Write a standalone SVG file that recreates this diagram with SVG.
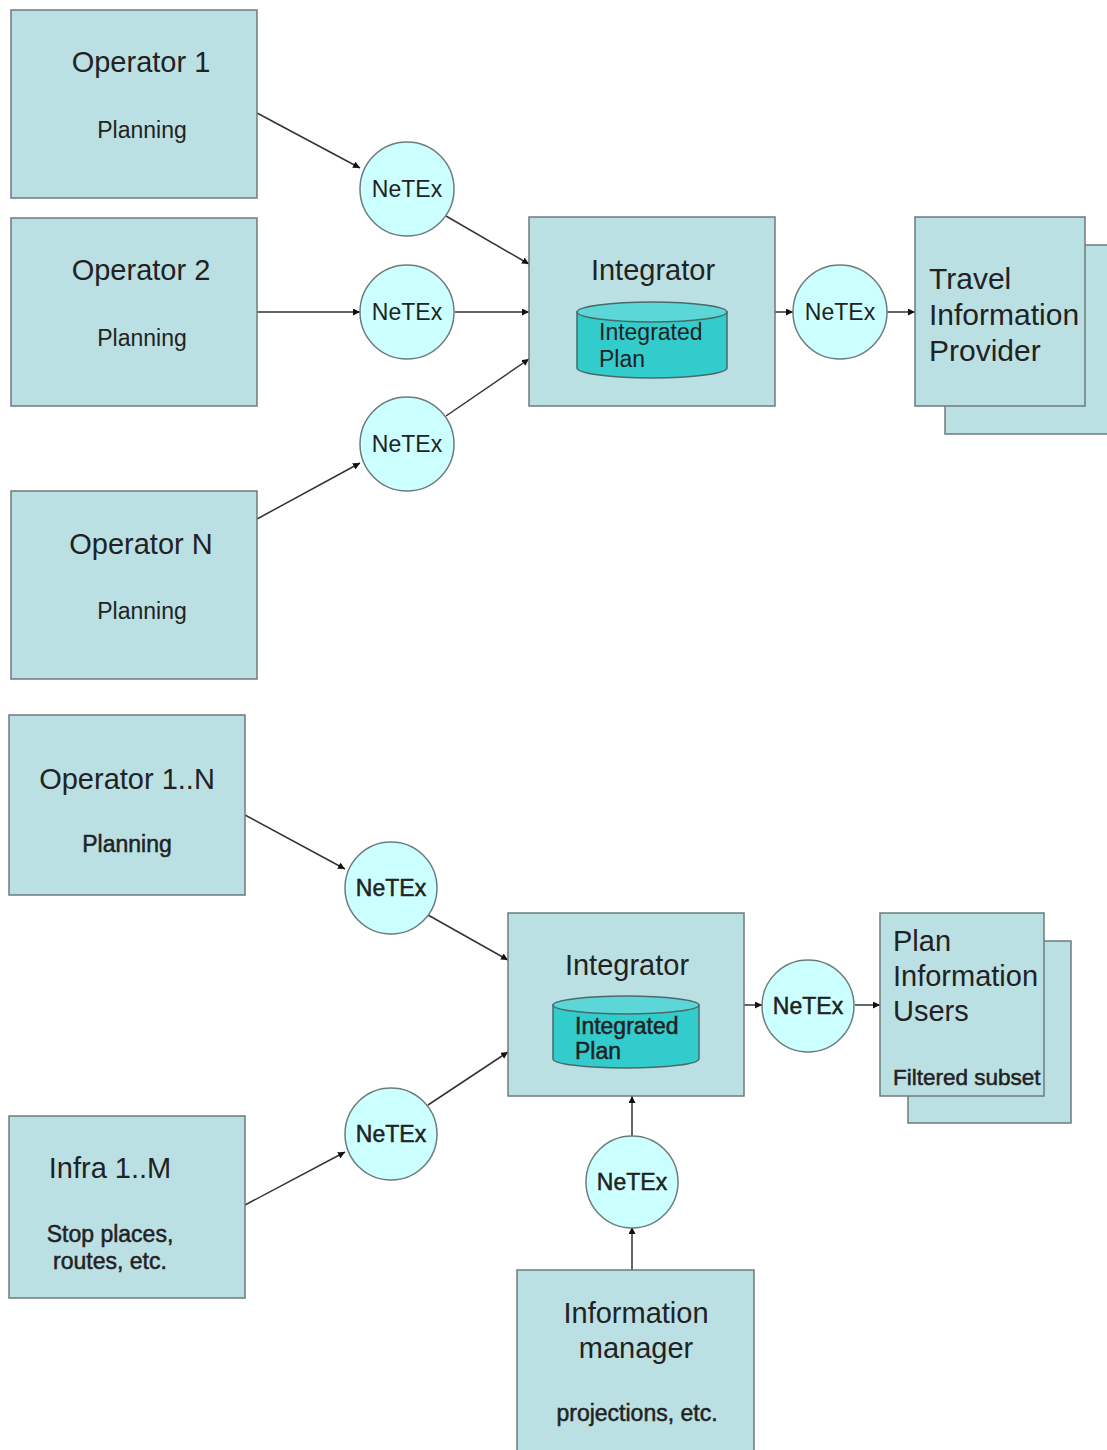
<svg xmlns="http://www.w3.org/2000/svg" width="1107" height="1450" viewBox="0 0 1107 1450">
<style>
.box{fill:#bbe0e3;stroke:#6e7b7c;stroke-width:1.5}
.circ{fill:#ccffff;stroke:#6e7b7c;stroke-width:1.5}
.cyl{fill:#33cccc;stroke:#4a6a6a;stroke-width:1.5}
.cyltop{fill:#5cd6d6;stroke:#4a6a6a;stroke-width:1.5}
.t{font-family:"Liberation Sans",Arial,sans-serif;fill:#222}
.big{font-size:29px}
.mid{font-size:23px}
.net{font-size:23px;text-anchor:middle}
.c{text-anchor:middle}
.semi{stroke:#222;stroke-width:0.5}
.con{stroke:#333;stroke-width:1.5;fill:none;marker-end:url(#ah)}
</style>
<defs>
<marker id="ah" viewBox="0 0 10 10" refX="10" refY="5" markerWidth="7" markerHeight="7" orient="auto" markerUnits="userSpaceOnUse">
<path d="M0,0 L10,5 L0,10 z" fill="#111"/>
</marker>
</defs>
<rect width="1107" height="1450" fill="#fff"/>

<g id="connectors">
<line class="con" x1="257" y1="113" x2="360" y2="168"/>
<line class="con" x1="446" y1="216" x2="529" y2="264"/>
<line class="con" x1="257" y1="312" x2="360" y2="312"/>
<line class="con" x1="455" y1="312" x2="529" y2="312"/>
<line class="con" x1="446" y1="416" x2="529" y2="359"/>
<line class="con" x1="257" y1="519" x2="360" y2="463"/>
<line class="con" x1="775" y1="312" x2="793" y2="312"/>
<line class="con" x1="887" y1="312" x2="915" y2="312"/>

<line class="con" x1="245" y1="815" x2="345" y2="869"/>
<line class="con" x1="428" y1="915" x2="508" y2="960"/>
<line class="con" x1="245" y1="1205" x2="345" y2="1152"/>
<line class="con" x1="428" y1="1105" x2="508" y2="1052"/>
<line class="con" x1="744" y1="1005" x2="762" y2="1005"/>
<line class="con" x1="855" y1="1005" x2="880" y2="1005"/>
<line class="con" x1="632" y1="1270" x2="632" y2="1227"/>
<line class="con" x1="632" y1="1136" x2="632" y2="1096"/>
</g>

<g id="op1">
<rect class="box" x="11" y="10" width="246" height="188"/>
<text class="t big c" x="141" y="72">Operator 1</text>
<text class="t mid c" x="142" y="138">Planning</text>
</g>
<g id="op2">
<rect class="box" x="11" y="218" width="246" height="188"/>
<text class="t big c" x="141" y="280">Operator 2</text>
<text class="t mid c" x="142" y="346">Planning</text>
</g>
<g id="opN">
<rect class="box" x="11" y="491" width="246" height="188"/>
<text class="t big c" x="141" y="554">Operator N</text>
<text class="t mid c" x="142" y="619">Planning</text>
</g>

<g id="netex1">
<circle class="circ" cx="407" cy="189" r="47"/>
<text class="t net" x="407" y="197">NeTEx</text>
</g>
<g id="netex2">
<circle class="circ" cx="407" cy="312" r="47"/>
<text class="t net" x="407" y="320">NeTEx</text>
</g>
<g id="netex3">
<circle class="circ" cx="407" cy="444" r="47"/>
<text class="t net" x="407" y="452">NeTEx</text>
</g>

<g id="integrator1">
<rect class="box" x="529" y="217" width="246" height="189"/>
<text class="t big c" x="653" y="280">Integrator</text>
<path class="cyl" d="M577,312 L577,368 A75,10 0 0 0 727,368 L727,312 Z"/>
<ellipse class="cyltop" cx="652" cy="312" rx="75" ry="10"/>
<text class="t mid" x="599" y="340">Integrated</text>
<text class="t mid" x="599" y="367">Plan</text>
</g>

<g id="netex4">
<circle class="circ" cx="840" cy="312" r="47"/>
<text class="t net" x="840" y="320">NeTEx</text>
</g>

<g id="tip">
<rect class="box" x="945" y="245" width="170" height="189"/>
<rect class="box" x="915" y="217" width="170" height="189"/>
<text class="t" style="font-size:30px" x="929" y="289">Travel</text>
<text class="t" style="font-size:30px" x="929" y="325">Information</text>
<text class="t" style="font-size:30px" x="929" y="361">Provider</text>
</g>

<g id="op1N">
<rect class="box" x="9" y="715" width="236" height="180"/>
<text class="t big c" x="127" y="789">Operator 1..N</text>
<text class="t mid c semi" x="127" y="852">Planning</text>
</g>

<g id="netex5">
<circle class="circ" cx="391" cy="888" r="46"/>
<text class="t net semi" x="391" y="896">NeTEx</text>
</g>

<g id="infra">
<rect class="box" x="9" y="1116" width="236" height="182"/>
<text class="t big c" x="110" y="1178">Infra 1..M</text>
<text class="t mid c semi" x="110" y="1242">Stop places,</text>
<text class="t mid c semi" x="110" y="1269">routes, etc.</text>
</g>

<g id="netex6">
<circle class="circ" cx="391" cy="1134" r="46"/>
<text class="t net semi" x="391" y="1142">NeTEx</text>
</g>

<g id="integrator2">
<rect class="box" x="508" y="913" width="236" height="183"/>
<text class="t big c" x="627" y="975">Integrator</text>
<path class="cyl" d="M553,1005 L553,1059 A73,9 0 0 0 699,1059 L699,1005 Z"/>
<ellipse class="cyltop" cx="626" cy="1005" rx="73" ry="9"/>
<text class="t mid semi" x="575" y="1034">Integrated</text>
<text class="t mid semi" x="575" y="1059">Plan</text>
</g>

<g id="netex7">
<circle class="circ" cx="808" cy="1006" r="46"/>
<text class="t net semi" x="808" y="1014">NeTEx</text>
</g>

<g id="piu">
<rect class="box" x="908" y="941" width="163" height="182"/>
<rect class="box" x="880" y="913" width="164" height="183"/>
<text class="t big" x="893" y="951">Plan</text>
<text class="t big" x="893" y="986">Information</text>
<text class="t big" x="893" y="1021">Users</text>
<text class="t semi" style="font-size:22.5px" x="893" y="1085">Filtered subset</text>
</g>

<g id="netex8">
<circle class="circ" cx="632" cy="1182" r="46"/>
<text class="t net semi" x="632" y="1190">NeTEx</text>
</g>

<g id="infomgr">
<rect class="box" x="517" y="1270" width="237" height="190"/>
<text class="t big c" x="636" y="1323">Information</text>
<text class="t big c" x="636" y="1358">manager</text>
<text class="t mid c semi" x="637" y="1421">projections, etc.</text>
</g>
</svg>
